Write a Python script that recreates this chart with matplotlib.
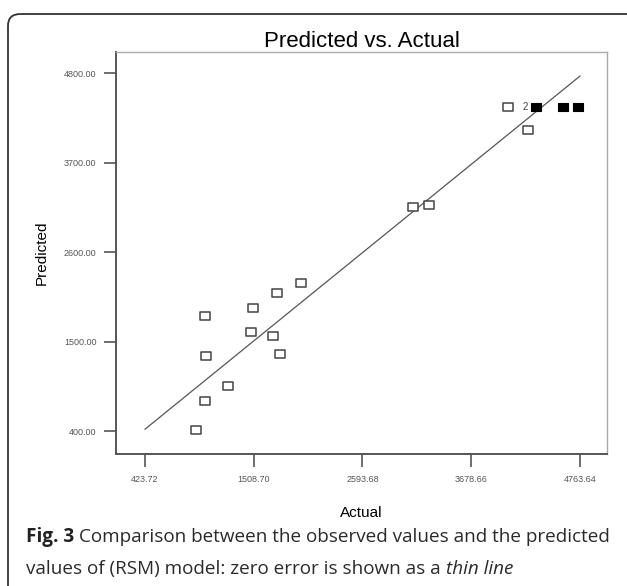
import numpy as np
import matplotlib
matplotlib.use("Agg")
from matplotlib import pyplot as plt
from matplotlib.path import Path
from matplotlib.patches import FancyBboxPatch

# data
actual_open = [4046, 4245, 3098, 3257, 1980, 1741, 1501, 1022, 1481, 1701, 1032, 1771, 1252, 1022, 932]
pred_open = [4390, 4100, 3150, 3178, 2223, 2092, 1912, 1813, 1613, 1568, 1322, 1346, 953, 772, 412]
actual_filled = [4325, 4594, 4744]
pred_filled = [4390, 4390, 4390]
x_ticks = [423.72, 1508.70, 2593.68, 3678.66, 4763.64]
y_ticks = [400.00, 1500.00, 2600.00, 3700.00, 4800.00]
line_ends = [423.72, 4763.64]

# wide square marker (a bit wider than tall, as in the original)
rect = Path([(-0.6, -0.45), (0.6, -0.45), (0.6, 0.45), (-0.6, 0.45), (-0.6, -0.45)],
            [Path.MOVETO, Path.LINETO, Path.LINETO, Path.LINETO, Path.CLOSEPOLY])

fig = plt.figure(figsize=(6.27, 5.86), dpi=100)
ax = fig.add_axes([0.185, 0.225, 0.783, 0.686])

ax.plot(line_ends, line_ends, color='#555555', lw=0.9)
ax.plot(actual_open, pred_open, ls='none', marker=rect, ms=7.3, mfc='white',
        mec='#444444', mew=1.1)
ax.plot(actual_filled, pred_filled, ls='none', marker=rect, ms=7.0, mfc='black',
        mec='black', mew=0.8)
ax.text(4215, 4390, '2', fontsize=7, color='#444444', ha='center', va='center',
        family='Liberation Sans')

ax.set_xlim(134, 5033)
ax.set_ylim(117, 5058)
ax.set_xticks(x_ticks)
ax.set_xticklabels(['%.2f' % v for v in x_ticks])
ax.set_yticks(y_ticks)
ax.set_yticklabels(['%.2f' % v for v in y_ticks])

tick_font = dict(family=['Liberation Sans Narrow', 'Liberation Sans'], size=6.5)
for lab in ax.get_xticklabels() + ax.get_yticklabels():
    lab.set_fontfamily(tick_font['family'])
    lab.set_fontsize(tick_font['size'])
    lab.set_color('#555555')
ax.tick_params(axis='both', direction='out', length=9, width=1.2, color='#555555')
ax.tick_params(axis='x', pad=6)
ax.tick_params(axis='y', pad=5)

for side in ['left', 'bottom']:
    ax.spines[side].set_color('#555555')
    ax.spines[side].set_linewidth(1.4)
for side in ['top', 'right']:
    ax.spines[side].set_color('#aaaaaa')
    ax.spines[side].set_linewidth(1.0)

ax.set_title('Predicted vs. Actual', fontsize=16, family='Liberation Sans', pad=4)
ax.set_xlabel('Actual', fontsize=11, family='Liberation Sans', labelpad=16)
ax.set_ylabel('Predicted', fontsize=11, family='Liberation Sans', labelpad=11)

# rounded frame round the whole figure
frame = FancyBboxPatch((8 / 627, -0.1), 1.2, (586 - 14) / 586 + 0.1,
                       boxstyle='round,pad=0,rounding_size=0.02',
                       transform=fig.transFigure, fill=False,
                       edgecolor='#333333', lw=1.3, clip_on=False)
fig.patches.append(frame)

# caption, "Fig. 3" in bold
cap_font = 'Open Sans'
cap_size = 13.6
t1 = fig.text(26 / 627, 1 - 537 / 586, 'Fig. 3', fontsize=cap_size, family=cap_font,
              weight='bold', va='center', color='#222222')
fig.canvas.draw()
bb = t1.get_window_extent(fig.canvas.get_renderer())
fig.text(bb.x1 / fig.bbox.width + 5 / 627, 1 - 537 / 586,
         'Comparison between the observed values and the predicted',
         fontsize=cap_size, family=cap_font, va='center', color='#2a2a2a')
t3 = fig.text(26 / 627, 1 - 569 / 586, 'values of (RSM) model: zero error is shown as a ',
              fontsize=cap_size, family=cap_font, va='center', color='#2a2a2a')
fig.canvas.draw()
bb3 = t3.get_window_extent(fig.canvas.get_renderer())
fig.text(bb3.x1 / fig.bbox.width, 1 - 569 / 586, 'thin line', fontsize=cap_size,
         family=cap_font, style='italic', va='center', color='#2a2a2a')

fig.savefig('out.png', dpi=100)
